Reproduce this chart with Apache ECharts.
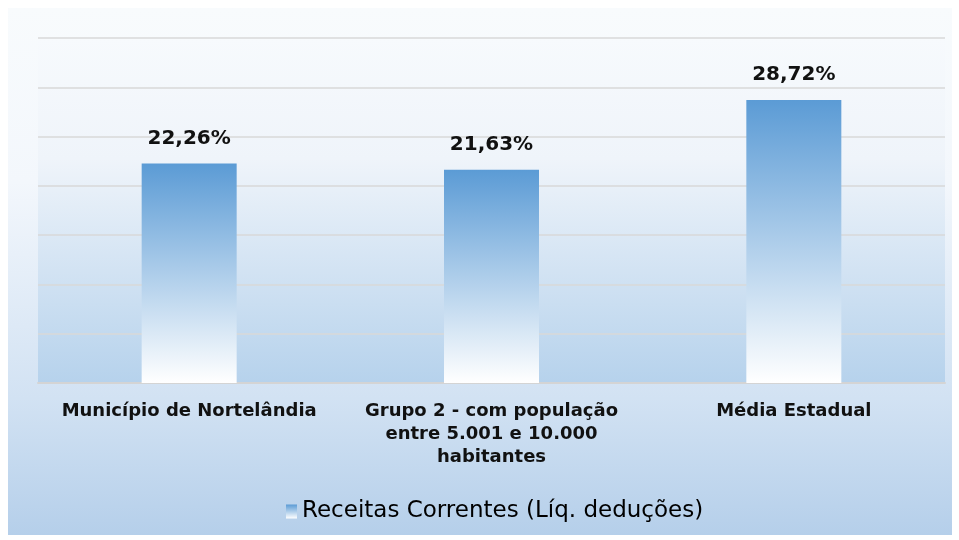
<!DOCTYPE html>
<html>
<head>
<meta charset="utf-8">
<script src="https://cdn.jsdelivr.net/npm/echarts@6/dist/echarts.min.js"></script>
<style>
    html, body { margin: 0; padding: 0; background: #ffffff; }
    #chart { width: 959px; height: 540px; }
</style>
</head>
<body>
<div id="chart"></div>
<script>
const categories = [
    'Município de Nortelândia',
    'Grupo 2 - com população\nentre 5.001 e 10.000\nhabitantes',
    'Média Estadual'
];
const values = [22.26, 21.63, 28.72];
const seriesName = 'Receitas Correntes (Líq. deduções)';

const chart = echarts.init(document.getElementById('chart'));

// degradê das barras: azul em cima, branco embaixo
const barFill = new echarts.graphic.LinearGradient(0, 0, 0, 1, [
    {offset: 0, color: '#5b9bd5'},
    {offset: 1, color: '#ffffff'}
]);

const option = {
    animation: false,
    graphic: [{
        type: 'rect',
        z: -10,
        shape: {x: 8, y: 8, width: 944, height: 527},
        style: {
            fill: new echarts.graphic.LinearGradient(0, 0, 0, 1, [
                {offset: 0, color: '#f8fbfd'},
                {offset: 0.33, color: '#f3f7fc'},
                {offset: 0.74, color: '#d2e2f3'},
                {offset: 1, color: '#b5cfea'}
            ])
        }
    }],
    grid: {
        left: 38,
        right: 14,
        top: 38,
        bottom: 157,
        show: true,
        borderWidth: 0,
        backgroundColor: new echarts.graphic.LinearGradient(0, 0, 0, 1, [
            {offset: 0, color: '#f7fafd'},
            {offset: 0.35, color: '#eff4fa'},
            {offset: 1, color: '#b6d2ec'}
        ])
    },
    legend: {
        bottom: 12,
        left: 281,
        icon: 'rect',
        itemWidth: 11,
        itemHeight: 14,
        itemGap: 6,
        textStyle: {
            fontFamily: 'DejaVu Sans',
            fontSize: 23,
            color: '#000000'
        },
        data: [seriesName]
    },
    xAxis: {
        type: 'category',
        data: categories,
        axisTick: {show: false},
        axisLine: {lineStyle: {color: '#d4d4d4', width: 2}},
        axisLabel: {
            interval: 0,
            margin: 17,
            fontFamily: 'DejaVu Sans',
            fontWeight: 'bold',
            fontSize: 18,
            lineHeight: 23,
            color: '#111111'
        }
    },
    yAxis: {
        type: 'value',
        min: 0,
        max: 35,
        interval: 5,
        axisLabel: {show: false},
        axisLine: {show: false},
        axisTick: {show: false},
        splitLine: {lineStyle: {color: '#d9d9d9', width: 1.5}}
    },
    series: [{
        name: seriesName,
        type: 'bar',
        data: values,
        barWidth: 95,
        itemStyle: {color: barFill},
        label: {
            show: true,
            position: 'top',
            distance: 15,
            fontFamily: 'DejaVu Sans',
            fontWeight: 'bold',
            fontSize: 20,
            color: '#111111',
            formatter: function (p) {
                return p.value.toFixed(2).replace('.', ',') + '%';
            }
        }
    }]
};
chart.setOption(option);
</script>
</body>
</html>
